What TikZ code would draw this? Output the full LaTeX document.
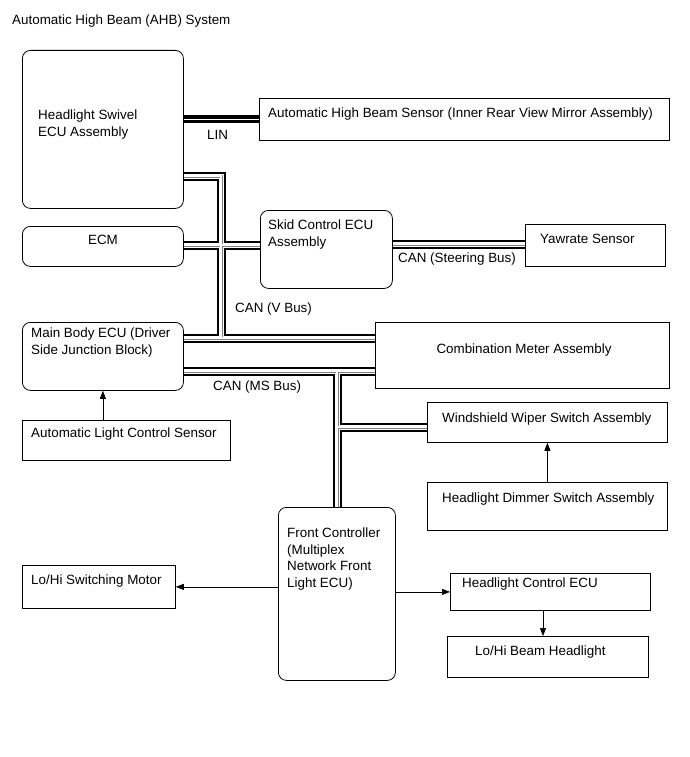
\documentclass[tikz,border=0pt]{standalone}
\usepackage{fontspec}
\setmainfont{Liberation Sans}
\usetikzlibrary{positioning, arrows.meta, backgrounds}

\tikzset{
  box/.style={draw, line width=0.8pt, anchor=north west, inner sep=0pt},
  rbox/.style={box, rounded corners=8pt},
  txt/.style={anchor=north west, align=left, inner sep=0pt,
              font=\fontsize{13.4pt}{16.4pt}\selectfont},
  arr/.style={line width=0.6pt, -{Triangle[length=8pt, width=6pt]}},
  bus/.style={line width=9pt, postaction={draw=white, line width=5pt},
              postaction={draw=gray, line width=3pt},
              postaction={draw=white, line width=1.6pt}},
  lin/.style={line width=8pt, postaction={draw=white, line width=1.4pt}},
}

\begin{document}
\begin{tikzpicture}[x=1pt, y=-1pt]
  \useasboundingbox (0,0) rectangle (689,757);

  \node[txt] (title) at (12,15) {Automatic High Beam (AHB) System};

  % boxes
  \node[rbox, minimum width=161pt, minimum height=158pt] (swivel) at (22,50) {};
  \node[box, minimum width=410pt, minimum height=42pt] (sensor) at (259,98) {};
  \node[rbox, minimum width=161pt, minimum height=40pt] (ecm) at (22,226) {};
  \node[rbox, minimum width=132pt, minimum height=78pt] (skid) at (260,210) {};
  \node[box, minimum width=140pt, minimum height=42pt] (yaw) at (525,224) {};
  \node[rbox, minimum width=161pt, minimum height=68pt] (mainbody) at (22,322) {};
  \node[box, minimum width=294pt, minimum height=66pt] (meter) at (375,322) {};
  \node[box, minimum width=208pt, minimum height=40pt] (autolight) at (22,420) {};
  \node[box, minimum width=240pt, minimum height=40pt] (wiper) at (427,402) {};
  \node[box, minimum width=240pt, minimum height=48pt] (dimmer) at (427,482) {};
  \node[rbox, minimum width=117pt, minimum height=173pt] (frontctrl) at (278,507) {};
  \node[box, minimum width=153pt, minimum height=43pt] (motor) at (22,565) {};
  \node[box, minimum width=200pt, minimum height=37pt] (hlctrl) at (450,573) {};
  \node[box, minimum width=201pt, minimum height=41pt] (lohi) at (447,636) {};

  % box texts
  \node[txt] (swivel-txt) at (38,110) {Headlight Swivel\\ECU Assembly};
  \node[txt] (sensor-txt) at (268,108) {Automatic High Beam Sensor (Inner Rear View Mirror Assembly)};
  \node[txt, anchor=north] (ecm-txt) at (103,235) {ECM};
  \node[txt] (skid-txt) at (268,220) {Skid Control ECU\\Assembly};
  \node[txt] (yaw-txt) at (540,234) {Yawrate Sensor};
  \node[txt] (mainbody-txt) at (31,328) {Main Body ECU (Driver\\Side Junction Block)};
  \node[txt, anchor=north] (meter-txt) at (524,344) {Combination Meter Assembly};
  \node[txt] (autolight-txt) at (31,428) {Automatic Light Control Sensor};
  \node[txt] (wiper-txt) at (442,413) {Windshield Wiper Switch Assembly};
  \node[txt] (dimmer-txt) at (442,493) {Headlight Dimmer Switch Assembly};
  \node[txt] (frontctrl-txt) at (287,528) {Front Controller\\(Multiplex\\Network Front\\Light ECU)};
  \node[txt] (motor-txt) at (31,575) {Lo/Hi Switching Motor};
  \node[txt] (hlctrl-txt) at (462,578) {Headlight Control ECU};
  \node[txt] (lohi-txt) at (475,646) {Lo/Hi Beam Headlight};

  % bus labels
  \node[txt] (lin-txt) at (207,130) {LIN};
  \node[txt] (steer-txt) at (398,253) {CAN (Steering Bus)};
  \node[txt] (vbus-txt) at (235,303) {CAN (V Bus)};
  \node[txt] (msbus-txt) at (213,381) {CAN (MS Bus)};

  % bus lines
  \coordinate (vjoin) at (221,176);
  \coordinate (ecmjoin) at (221,245);
  \coordinate (vbot) at (221,338);
  \coordinate (steer) at (458,244);
  \coordinate (msturn) at (337,371);
  \coordinate (wipbr) at (337,427);
  \begin{scope}[on background layer]
    \draw[lin] (sensor.west -| swivel.east) -- (sensor.west);
    \draw[bus] (vjoin -| swivel.east) -- (vjoin) -- (vbot)
               (ecmjoin -| ecm.east) -- (ecmjoin -| skid.west)
               (vbot -| mainbody.east) -- (vbot -| meter.west)
               (msturn -| mainbody.east) -- (msturn -| meter.west)
               (msturn) -- (msturn |- frontctrl.north)
               (wipbr) -- (wipbr -| wiper.west)
               (steer -| skid.east) -- (steer -| yaw.west);
  \end{scope}

  % arrows
  \coordinate (beamtap) at (543,610);
  \draw[arr] (autolight.north -| mainbody.south) -- (mainbody.south);
  \draw[arr] (dimmer.north) -- (wiper.south);
  \draw[arr] (motor.east -| frontctrl.west) -- (motor.east);
  \draw[arr] (hlctrl.west -| frontctrl.east) -- (hlctrl.west);
  \draw[arr] (beamtap |- hlctrl.south) -- (beamtap |- lohi.north);
\end{tikzpicture}
\end{document}
